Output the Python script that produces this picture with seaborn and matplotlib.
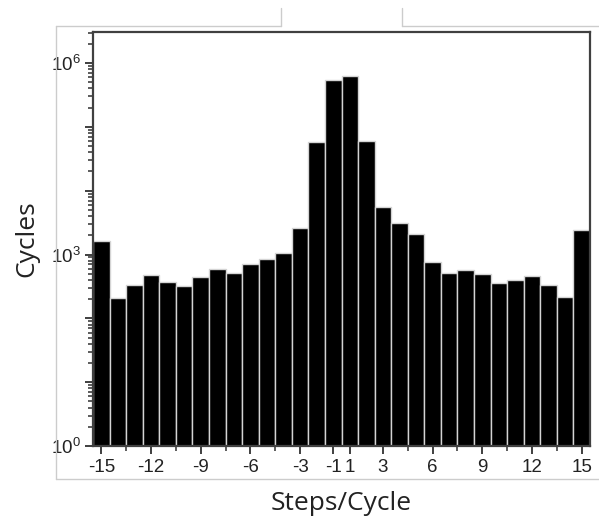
import matplotlib
matplotlib.use("Agg")
import matplotlib.pyplot as plt
import matplotlib.ticker as mticker
from matplotlib.lines import Line2D
import seaborn as sns
import pandas as pd
import math

# ---- data ----
steps = [-15, -14, -13, -12, -11, -10, -9, -8, -7, -6, -5, -4, -3, -2, -1,
         1, 2, 3, 4, 5, 6, 7, 8, 9, 10, 11, 12, 13, 14, 15]
cycles = [1650, 207, 328, 482, 369, 324, 448, 589, 505, 715, 845, 1061, 2612, 58300, 542000,
          632000, 60300, 5480, 3160, 2070, 750, 510, 562, 493, 361, 398, 453, 336, 215, 2430]
xtick_labels = ["-15", "-12", "-9", "-6", "-3", "-1", "1", "3", "6", "9", "12", "15"]
ytick_label_exps = [0, 3, 6]

df = pd.DataFrame({"step": [str(s) for s in steps], "cycles": cycles})
order = [str(s) for s in steps]

sns.set_style("white")
plt.rcParams["font.family"] = ["Liberation Sans", "DejaVu Sans"]
plt.rcParams["mathtext.fontset"] = "custom"
plt.rcParams["mathtext.rm"] = "Liberation Sans"
plt.rcParams["mathtext.it"] = "Liberation Sans"

W, H = 599, 519
fig = plt.figure(figsize=(W / 100, H / 100), dpi=100)
ax = fig.add_axes([93 / W, 1 - 446 / H, (590 - 93) / W, (446 - 32) / H])

sns.barplot(data=df, x="step", y="cycles", order=order, color="black",
            saturation=1, width=1.0, edgecolor="#d4d4d4", linewidth=1.0,
            errorbar=None, ax=ax)
ax.set_yscale("log")
ax.set_ylim(1, 10 ** 6.486)
ax.set_xlim(-0.5, len(steps) - 0.5)

# y ticks
ax.yaxis.set_major_locator(mticker.FixedLocator([10.0 ** e for e in range(0, 7)]))
def yfmt(v, pos):
    e = int(round(math.log10(v)))
    return r"10$^{%d}$" % e if e in ytick_label_exps else ""
ax.yaxis.set_major_formatter(mticker.FuncFormatter(yfmt))
ax.yaxis.set_minor_locator(mticker.LogLocator(base=10, subs=range(2, 10), numticks=20))
ax.yaxis.set_minor_formatter(mticker.NullFormatter())

# x ticks
pos_map = {str(s): i for i, s in enumerate(steps)}
ax.set_xticks([pos_map[l] for l in xtick_labels])
ax.set_xticklabels(xtick_labels)
ax.set_xticks([1.5, 4.5, 7.5, 10.5, 18.5, 21.5, 24.5, 27.5], minor=True)

ax.tick_params(axis="both", which="major", direction="out", length=6, width=1.3,
               color="#303030", labelsize=13.5, labelcolor="#222222", pad=3,
               left=True, bottom=True)
ax.tick_params(axis="both", which="minor", direction="out", length=3.5, width=1.1,
               color="#303030", left=True, bottom=True)

for s in ax.spines.values():
    s.set_color("#404040")
    s.set_linewidth(1.6)
    s.set_visible(True)

ax.set_xlabel("Steps/Cycle", fontsize=19, family=["Open Sans", "DejaVu Sans"],
              color="#222222", labelpad=11)
ax.set_ylabel("Cycles", fontsize=19, family=["Open Sans", "DejaVu Sans"],
              color="#222222", labelpad=8)

# light grey outer frame from the original screenshot
gc = "#cccccc"
def fl(x0, y0, x1, y1):
    fig.add_artist(Line2D([x0 / W, x1 / W], [1 - y0 / H, 1 - y1 / H],
                          transform=fig.transFigure, color=gc, lw=1.0))
fl(56, 26, 281, 26)
fl(281, 26, 281, 8)
fl(402, 26, 402, 8)
fl(402, 26, 599, 26)
fl(56, 26, 56, 479)
fl(56, 479, 599, 479)

fig.savefig("out.png", dpi=100)
